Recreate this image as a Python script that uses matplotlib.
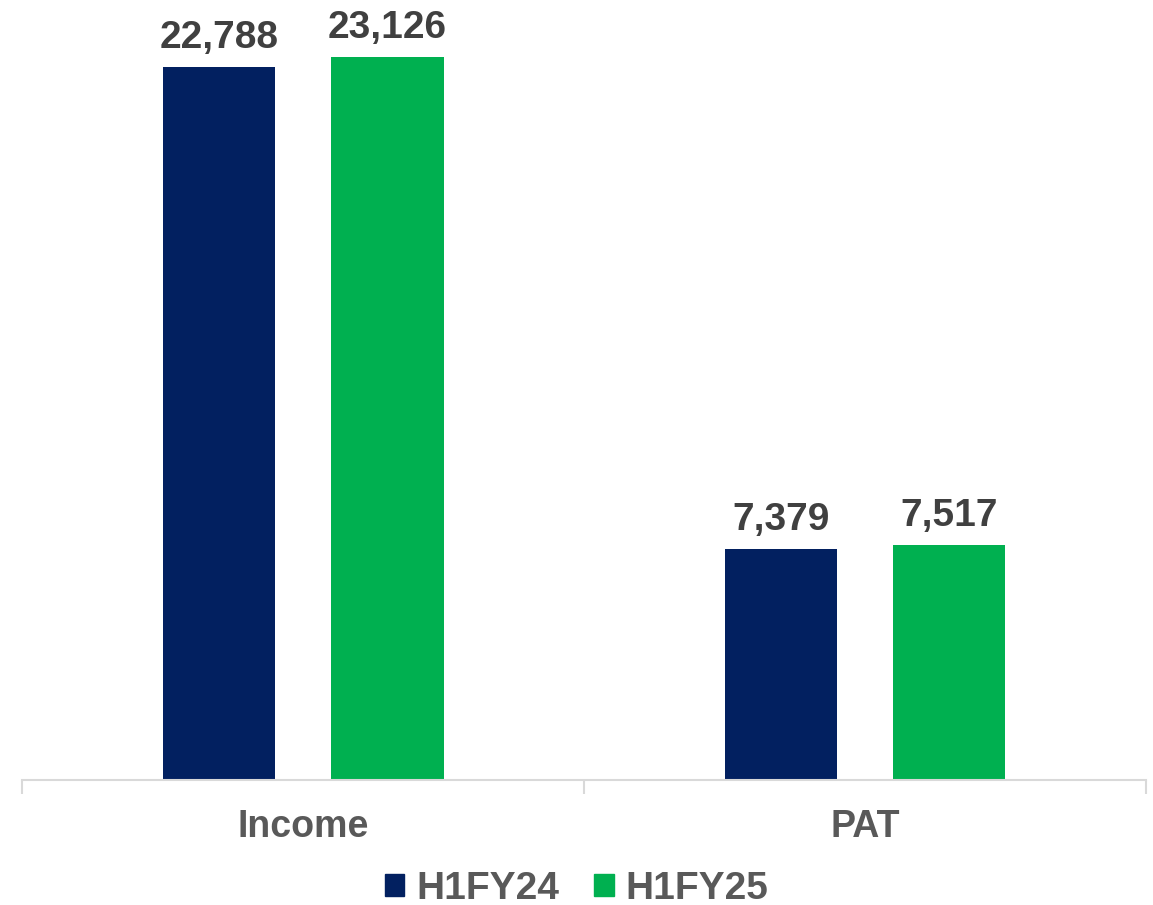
import numpy as np
import matplotlib
matplotlib.use('Agg')
import matplotlib.pyplot as plt
from matplotlib.patches import Patch

# data
categories = ['Income', 'PAT']
series_names = ['H1FY24', 'H1FY25']
h1fy24 = [22788, 7379]
h1fy25 = [23126, 7517]
colors = ['#022060', '#00B050']

plt.rcParams['font.family'] = ['Liberation Sans', 'DejaVu Sans']

fig = plt.figure(figsize=(11.53, 9.05), dpi=100)
ax = fig.add_axes([22 / 1153, 125 / 905, 1124 / 1153, 782 / 905])

x = np.arange(len(categories))
width = 0.2
offset = 0.15
bars1 = ax.bar(x - offset, h1fy24, width, color=colors[0], label=series_names[0])
bars2 = ax.bar(x + offset, h1fy25, width, color=colors[1], label=series_names[1])

# value labels
for bars in (bars1, bars2):
    for b in bars:
        ax.annotate(f'{int(b.get_height()):,}', (b.get_x() + b.get_width() / 2, b.get_height()),
                    xytext=(0, 8), textcoords='offset points', ha='center', va='bottom',
                    fontsize=28, fontweight='bold', color='#404040', annotation_clip=False)

ax.set_xlim(-0.5, 1.5)
ax.set_ylim(0, 25000)
for s in ['top', 'right', 'left']:
    ax.spines[s].set_visible(False)
ax.spines['bottom'].set_color('#D9D9D9')
ax.spines['bottom'].set_linewidth(1.5)
ax.set_yticks([])

# ticks between categories
ax.set_xticks([-0.5, 0.5, 1.5])
ax.set_xticklabels([])
ax.tick_params(axis='x', length=10, width=1.5, color='#D9D9D9')
ax.set_xticks(x, minor=True)
ax.set_xticklabels(categories, minor=True)
ax.tick_params(axis='x', which='minor', length=0, pad=21, labelsize=27, labelcolor='#595959')
for lbl in ax.get_xticklabels(minor=True):
    lbl.set_fontweight('bold')

handles = [Patch(color=c) for c in colors]
fig.legend(handles, series_names, loc='center', bbox_to_anchor=(0.5, 16 / 905), ncol=2,
           frameon=False, labelcolor='#595959',
           prop={'weight': 'bold', 'size': 28},
           handlelength=0.5, handleheight=0.5, handletextpad=0.3, columnspacing=0.9)

plt.savefig('out.png', dpi=100)
